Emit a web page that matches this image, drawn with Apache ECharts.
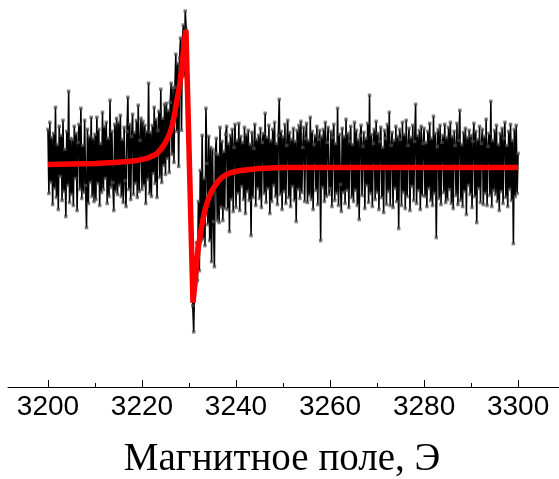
<!DOCTYPE html>
<html>
<head>
<meta charset="utf-8">
<script src="https://cdn.jsdelivr.net/npm/echarts@6/dist/echarts.min.js"></script>
<style>
  html, body { margin: 0; padding: 0; background: #fff; }
  #chart { width: 559px; height: 479px; }
</style>
</head>
<body>
<div id="chart"></div>
<script>
// EPR spectrum: recorded signal (black) and Lorentzian-derivative fit (red)
const fieldStart = 3200;   // first sample, Oe
const fieldStep = 0.2;     // sampling step, Oe

// recorded signal, arbitrary units, one row per 5 Oe
const signalValues = [
  37, -27, 44, -16, 29, -38, 33, -22, 59, -31, 22, -43, 40, -10, 31, -34, 46, -25, 17, -50, 35, -19, 75, -36, 28,
  -28, 27, -39, 40, -12, 33, -44, 24, 42, -23, 58, -32, 21, -26, 46, -19, -61, 37, -37, 30, -16, 49, -30, 28, -35,
  32, -33, 49, -17, 37, -39, 23, -26, 54, -23, 40, -12, 44, -37, 28, -30, 66, -21, 35, -16, -44, 42, -25, 48, -28,
  44, -19, 51, -30, 27, -36, 39, -14, -40, 35, 69, -23, 42, -33, 30, 52, -28, 34, -17, 46, -31, 61, -25, 26, 48,
  -23, 45, -19, 41, -37, 35, -13, 83, -27, 34, -30, 41, -7, 59, -17, 47, -31, 36, 55, -11, 77, -16, 48, 1, 62,
  -8, 63, 8, 56, -6, 64, 83, 12, 79, 4, 79, 112, 35, 103, 0, 108, 128, 36, 127, 141, 90, 155, 137, 61, 70,
  24, -32, -44, -109, -139, -165, -112, -117, -76, -114, -35, -104, -4, -74, 31, -72, -12, -79, 58, 3, -58, 30, -74, 19, -95,
  17, -55, -100, 13, 28, -54, 12, -56, 39, -41, 25, -54, 15, -42, 32, 40, -43, 23, -65, 31, -33, 37, -45, 19, 42,
  -41, 26, -27, 43, -44, 30, -20, 24, -33, 39, -47, 32, -25, 36, -34, 22, -69, 34, -31, 18, 42, -39, 27, -22, 31,
  -32, 38, -41, 24, 33, -27, 53, -36, 29, -22, 41, -47, 26, -35, 37, -19, 44, -30, 23, -38, 31, 67, -28, 35, -43,
  30, -25, 42, -37, 21, 46, -31, 34, -40, 27, -20, 38, -34, 25, -55, 36, -23, 41, -32, 45, -26, 19, 39, -35, 28,
  43, -36, 26, -29, 49, -33, 35, -43, 22, 31, -24, 40, -38, 27, 36, -74, 30, -21, 37, -35, 44, -30, 24, 39, -28,
  -22, 35, -40, 29, 42, -34, 23, -27, 58, -39, 32, -18, -45, 38, -26, 30, -37, 47, -24, 33, -41, 25, 40, -31, 22,
  -35, 44, -24, 36, -39, 27, -53, 31, 41, -29, 20, 34, -42, 28, -19, 43, -36, 71, -27, 32, -40, 23, 37, -33, 45,
  -26, 33, -43, 25, 39, -31, 19, -46, 36, 28, -38, 42, -25, 54, -39, 21, 34, -41, 26, -22, 40, -35, 30, -62, 37,
  27, -39, 44, -26, 32, -42, 46, -30, 21, 38, -44, 29, -20, 41, -34, 25, 62, -37, 31, -24, 36, -43, 40, -29, 23,
  38, -30, 24, -40, 35, -22, 43, -34, 28, -39, 50, -27, 33, -71, 20, 37, -32, 41, -38, 24, 31, -26, 42, -36, 29,
  -33, 39, -23, 44, -37, 30, -42, 35, 21, -29, 43, -38, 26, 56, -34, 22, -40, 34, -25, 38, -48, 29, -19, 36, -28,
  31, -41, 25, 43, -30, 35, -56, 27, -22, 40, -36, 23, 37, -38, 30, -27, 47, -39, 20, 33, -29, 65, -40, 26, -24,
  36, -28, 41, -35, 22, -44, 33, -25, 38, -37, 28, 44, -31, 21, -40, 35, -23, 42, -34, 26, -77, 37, -30, 41, -27,
  13
];

// fitted curve
const fitField = [
  3200, 3205, 3210, 3214, 3217, 3219, 3221, 3222, 3223, 3224, 3225, 3225.5, 3226, 3226.5,
  3227, 3227.5, 3228, 3228.5, 3229, 3229.35, 3230.85, 3231.2, 3231.5, 3232, 3232.5, 3233,
  3233.5, 3234, 3234.5, 3235, 3236, 3237, 3238, 3239, 3241, 3245, 3250, 3300
];
const fitValues = [
  2, 2.5, 3, 4, 5, 6, 8, 10, 12, 17, 24, 29, 34, 42,
  54, 68, 80, 100, 125, 136, -136, -120, -102, -80, -65, -52,
  -42, -34, -28, -23, -16, -11, -8, -6, -4, -2, -1, -1
];

// axis ticks
const majorTicks = [3200, 3220, 3240, 3260, 3280, 3300];
const minorTicks = [3210, 3230, 3250, 3270, 3290];
const axisTitle = 'Магнитное поле, Э';

const signalData = signalValues.map((v, i) => [fieldStart + i * fieldStep, v]);
const fitData = fitField.map((f, i) => [f, fitValues[i]]);

const axisMin = 3191.5;
const axisMax = 3308.7;

const chart = echarts.init(document.getElementById('chart'), null, { renderer: 'canvas' });
chart.setOption({
  animation: false,
  backgroundColor: '#fff',
  grid: { left: 8, right: 0, top: 0, bottom: 92 },
  xAxis: [
    {
      type: 'value', min: axisMin, max: axisMax, position: 'bottom',
      axisLine: { show: true, onZero: false, lineStyle: { color: '#000', width: 1 } },
      axisTick: { show: true, inside: true, length: 7, customValues: majorTicks, lineStyle: { color: '#000', width: 1 } },
      axisLabel: {
        show: true, customValues: majorTicks, margin: 6,
        formatter: v => String(v),
        color: '#000', fontFamily: 'Liberation Sans', fontSize: 28
      },
      splitLine: { show: false }
    },
    {
      type: 'value', min: axisMin, max: axisMax, position: 'bottom',
      axisLine: { show: false, onZero: false },
      axisTick: { show: true, inside: true, length: 4, customValues: minorTicks, lineStyle: { color: '#000', width: 1 } },
      axisLabel: { show: false },
      splitLine: { show: false }
    }
  ],
  yAxis: { type: 'value', min: -220, max: 166, show: false, splitLine: { show: false } },
  graphic: [{
    type: 'text', x: 282, y: 460,
    style: {
      text: axisTitle, font: '39px "Liberation Serif"', fill: '#000',
      align: 'center', verticalAlign: 'middle'
    }
  }],
  series: [
    {
      type: 'line', data: signalData, xAxisIndex: 0,
      symbol: 'rect', symbolSize: 3.5, showSymbol: true,
      lineStyle: { color: '#000', width: 1.6 },
      itemStyle: { color: 'rgba(80,80,80,0.7)' },
      z: 2
    },
    {
      type: 'line', data: fitData, xAxisIndex: 0,
      symbol: 'none',
      lineStyle: { color: '#f00', width: 5.5 },
      z: 3
    }
  ]
});
</script>
</body>
</html>
